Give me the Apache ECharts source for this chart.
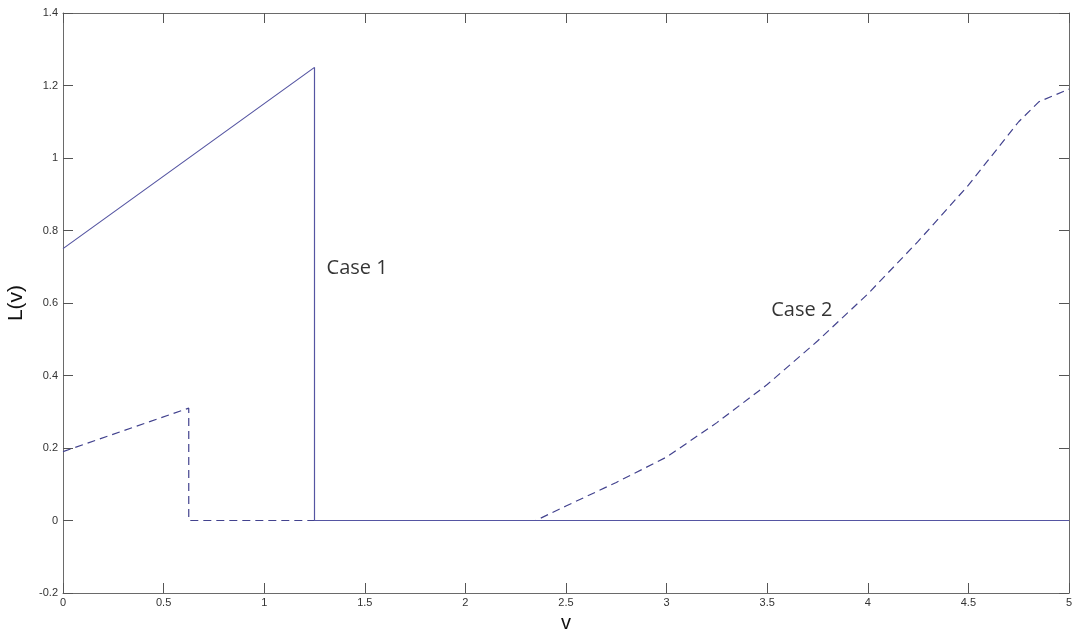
<!DOCTYPE html>
<html>
<head>
<meta charset="utf-8">
<script src="https://cdn.jsdelivr.net/npm/echarts@6/dist/echarts.min.js"></script>
<style>html,body{margin:0;padding:0;background:#fff}#c{width:1075px;height:637px}</style>
</head>
<body>
<div id="c"></div>
<script>
// Case 1 (solid)
var case1V = [0, 1.25, 1.25, 5];
var case1L = [0.75, 1.25, 0, 0];
// Case 2 (dashed)
var case2V = [0, 0.625, 0.625, 2.35, 2.5, 2.75, 3.0, 3.25, 3.5, 3.75, 4.0, 4.25, 4.5, 4.75, 4.85, 5.0];
var case2L = [0.19, 0.31, 0, 0, 0.04, 0.105, 0.175, 0.27, 0.375, 0.495, 0.625, 0.77, 0.925, 1.1, 1.155, 1.19];
// annotations
var noteText = ['Case 1', 'Case 2'];
var noteV = [1.31, 3.52];
var noteL = [0.697, 0.58];

function pairs(xs, ys){ return xs.map(function(x,i){ return [x, ys[i]]; }); }

var axisLineStyle = {color:'#6a6a6a', width:1};
var chart = echarts.init(document.getElementById('c'));
var tickCommon = {show:true, inside:true, length:10, lineStyle:{color:'#555', width:1}};
chart.setOption({
  animation:false,
  backgroundColor:'#fff',
  grid:{left:63, right:6, top:13, bottom:44, containLabel:false, outerBoundsMode:'none'},
  xAxis:[{
    type:'value', min:0, max:5, interval:0.5, position:'bottom',
    name:'v', nameLocation:'middle', nameGap:20,
    nameTextStyle:{fontFamily:'Liberation Sans', fontSize:20, color:'#111'},
    axisLine:{show:true, onZero:false, lineStyle:axisLineStyle},
    axisTick:tickCommon,
    axisLabel:{fontFamily:'Liberation Sans', fontSize:11, color:'#333', margin:4},
    splitLine:{show:false}
  },{
    type:'value', min:0, max:5, interval:0.5, position:'top',
    axisLine:{show:true, onZero:false, lineStyle:axisLineStyle},
    axisTick:tickCommon, axisLabel:{show:false}, splitLine:{show:false}
  }],
  yAxis:[{
    type:'value', min:-0.2, max:1.4, interval:0.2, position:'left',
    name:'L(v)', nameLocation:'middle', nameGap:36,
    nameTextStyle:{fontFamily:'Liberation Sans', fontSize:21, color:'#111'},
    axisLine:{show:true, onZero:false, lineStyle:axisLineStyle},
    axisTick:tickCommon,
    axisLabel:{fontFamily:'Liberation Sans', fontSize:11, color:'#333', margin:5,
      formatter:function(v){ return String(Math.round(v*10)/10); }},
    splitLine:{show:false}
  },{
    type:'value', min:-0.2, max:1.4, interval:0.2, position:'right',
    axisLine:{show:true, onZero:false, lineStyle:axisLineStyle},
    axisTick:tickCommon, axisLabel:{show:false}, splitLine:{show:false}
  }],
  series:[{
    type:'line', data:pairs(case2V, case2L), showSymbol:false, symbol:'none',
    lineStyle:{color:'#42428e', width:1.2, type:[8,5]}, z:2
  },{
    type:'line', data:pairs(case1V, case1L), showSymbol:false, symbol:'none',
    lineStyle:{color:'#5555a2', width:1.2}, z:3
  },{
    type:'scatter', data:pairs(noteV, noteL), symbolSize:0, z:4,
    label:{show:true, position:'right', distance:0,
      fontFamily:'Open Sans', fontSize:20, color:'#000',
      formatter:function(p){ return noteText[p.dataIndex]; }}
  }]
});
</script>
</body>
</html>
